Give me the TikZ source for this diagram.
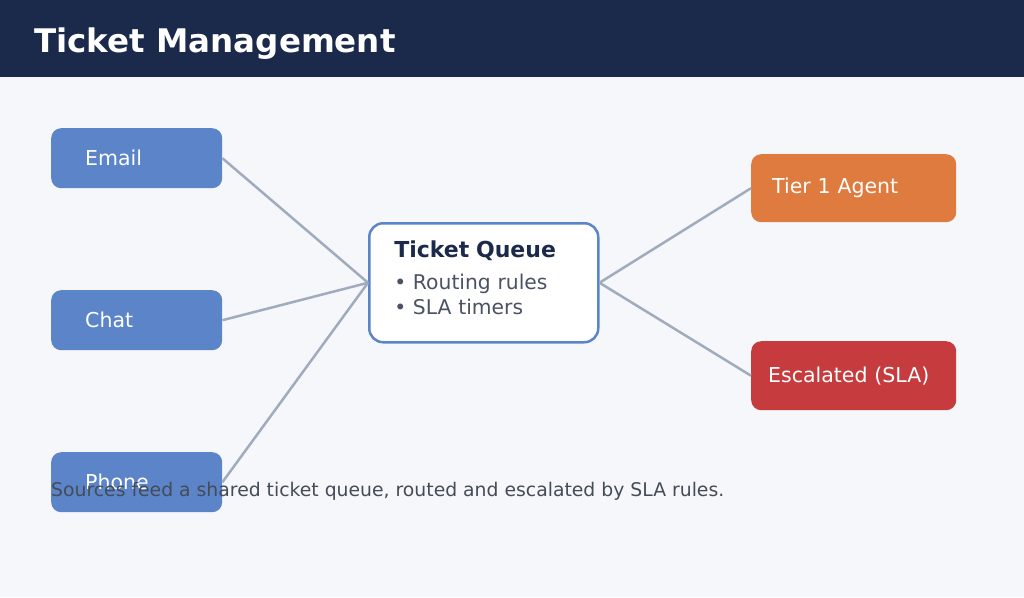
\documentclass[tikz,border=0pt]{standalone}
\usepackage{fontspec}
\setmainfont{DejaVu Sans}
\definecolor{navy}{HTML}{1B2A4A}
\definecolor{paper}{HTML}{F5F7FB}
\definecolor{srcblue}{HTML}{5B84C9}
\definecolor{tierorange}{HTML}{E07B40}
\definecolor{escred}{HTML}{C63B3D}
\definecolor{linkgray}{HTML}{A0ACBE}
\definecolor{bodygray}{HTML}{4A5263}
\definecolor{notegray}{HTML}{454C57}
\tikzset{
    box/.style={rounded corners=10pt, text=white, anchor=north west, align=left,
        font=\fontsize{20.5}{24}\selectfont},
    source/.style={box, fill=srcblue, minimum height=60pt, inner xsep=34pt, text width=103pt},
    target/.style={box, minimum height=68pt, inner xsep=#1, text width=205pt-2*#1},
    queue/.style={draw=srcblue, line width=2.5pt, fill=white, rounded corners=14pt,
        anchor=north west, minimum height=119pt, inner xsep=25pt, text width=179pt,
        text height=15pt, text depth=66pt, align=left, text=bodygray,
        font=\fontsize{20.3}{25}\selectfont},
    link/.style={draw=linkgray, line width=2.5pt},
}

\begin{document}
\begin{tikzpicture}[x=1pt, y=-1pt]

    % page and header band
    \fill[paper] (0,0) rectangle (1024,597);
    \useasboundingbox (0,0) rectangle (1024,597);
    \fill[navy] (0,0) rectangle (1024,77);
    \node[anchor=base west, inner sep=0, text=white, font=\fontsize{32.5}{38}\selectfont\bfseries]
        (title) at (34,52) {Ticket Management};

    % ticket sources
    \node[source] (email) at (51,128) {Email};
    \node[source] (chat)  at (51,290) {Chat};
    \node[source] (phone) at (51,452) {Phone};

    % shared queue
    \node[queue] (queue) at (368,222)
        {{\fontsize{22}{25}\selectfont\bfseries\color{navy}Ticket Queue}\\[7pt] • Routing rules\\ • SLA timers};

    % destinations
    \node[target=21pt, fill=tierorange] (tier) at (751,154) {Tier 1 Agent};
    \node[target=17pt, fill=escred, minimum height=69pt] (esc) at (751,341) {Escalated (SLA)};

    % connectors
    \foreach \s in {email, chat, phone} {\draw[link] (\s.east) -- (queue.west);}
    \foreach \t in {tier, esc} {\draw[link] (queue.east) -- (\t.west);}

    % caption
    \node[anchor=base west, inner sep=0, text=notegray, font=\fontsize{18.8}{22}\selectfont]
        (note) at (51,496) {Sources feed a shared ticket queue, routed and escalated by SLA rules.};

\end{tikzpicture}
\end{document}
